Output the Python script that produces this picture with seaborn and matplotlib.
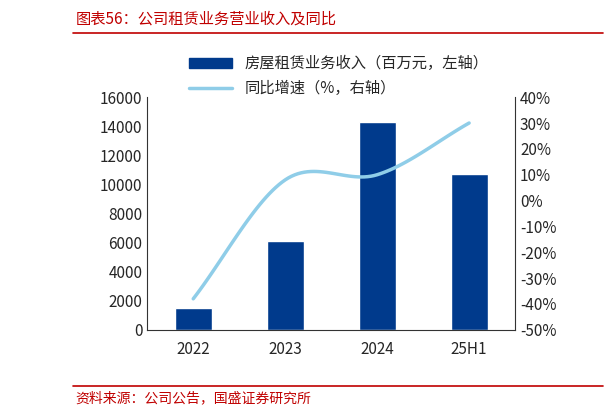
import numpy as np
import seaborn as sns
import matplotlib.pyplot as plt
from matplotlib.lines import Line2D

sns.set_style('white')
plt.rcParams['font.family'] = ['Noto Sans CJK SC', 'DejaVu Sans']

periods = ['2022', '2023', '2024', '25H1']
revenue = [1500, 6100, 14300, 10700]
growth = [-38, 8, 10, 30]

fig = plt.figure(figsize=(6.06, 4.17), dpi=100)
ax = fig.add_axes([0.243, 0.209, 0.607, 0.558])
sns.barplot(x=periods, y=revenue, color='#003A8C', width=0.4, ax=ax, saturation=1)
ax.set_ylim(0, 16000)
ax.set_yticks(range(0, 16001, 2000))
ax.set_xlim(-0.5, 3.5)
for s in ['top', 'right']:
    ax.spines[s].set_visible(False)
for s in ['left', 'bottom']:
    ax.spines[s].set_color('#333333')
ax.tick_params(axis='both', labelsize=11, length=0)
ax.tick_params(axis='x', pad=8)

# smooth curve through the data points (Catmull-Rom) for rendering only
x = np.arange(len(growth), dtype=float)
y = np.array(growth, dtype=float)
px = np.concatenate([[2 * x[0] - x[1]], x, [2 * x[-1] - x[-2]]])
py = np.concatenate([[2 * y[0] - y[1]], y, [2 * y[-1] - y[-2]]])
cx, cy = [], []
for i in range(1, len(px) - 2):
    t = np.linspace(0, 1, 30)
    for P, out in ((px, cx), (py, cy)):
        p0, p1, p2, p3 = P[i - 1], P[i], P[i + 1], P[i + 2]
        out.extend(0.5 * (2 * p1 + (-p0 + p2) * t + (2 * p0 - 5 * p1 + 4 * p2 - p3) * t**2
                          + (-p0 + 3 * p1 - 3 * p2 + p3) * t**3))
ax2 = ax.twinx()
ax2.plot(cx, cy, color='#8FCDE8', lw=2.5)
ax2.set_ylim(-50, 40)
ax2.set_yticks(range(-50, 41, 10))
ax2.set_yticklabels([f'{v}%' for v in range(-50, 41, 10)])
ax2.tick_params(labelsize=11, length=0)
for s in ['top', 'left', 'bottom']:
    ax2.spines[s].set_visible(False)
ax2.spines['right'].set_color('#333333')

handles = [plt.Rectangle((0, 0), 1, 1, color='#003A8C'),
           Line2D([0], [0], color='#8FCDE8', lw=2.5)]
fig.legend(handles, ['房屋租赁业务收入（百万元，左轴）', '同比增速（%，右轴）'],
           loc='upper left', bbox_to_anchor=(0.29, 0.9), frameon=False, fontsize=11,
           handlelength=2.8, labelspacing=0.5)

fig.text(0.125, 0.955, '图表56：公司租赁业务营业收入及同比', color='#C00000', fontsize=11,
         style='italic', va='center')
fig.add_artist(Line2D([0.12, 0.995], [0.92, 0.92], color='#C00000', lw=1.2))
fig.add_artist(Line2D([0.12, 0.995], [0.075, 0.075], color='#C00000', lw=1.2))
fig.text(0.125, 0.045, '资料来源：公司公告，国盛证券研究所', color='#C00000', fontsize=10,
         style='italic', va='center')

fig.savefig('out.png', dpi=100)
